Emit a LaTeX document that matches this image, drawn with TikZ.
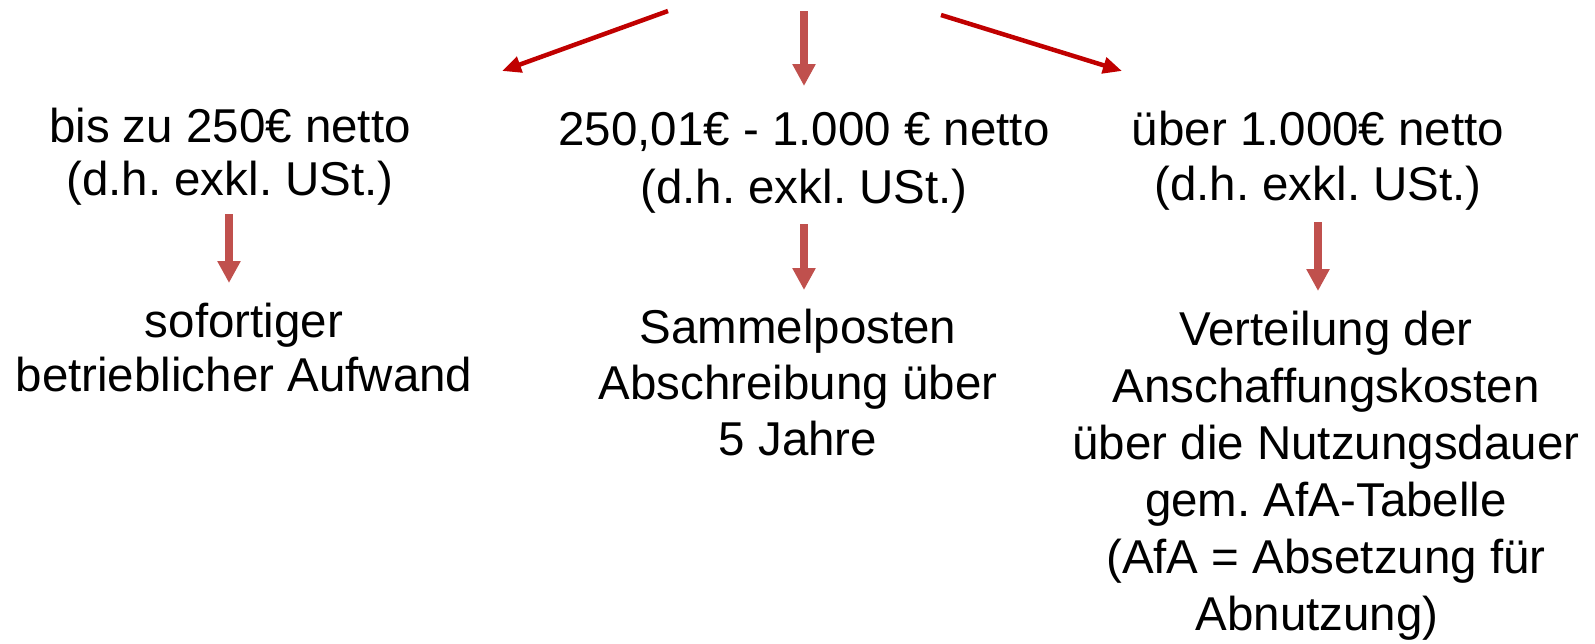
\documentclass[tikz,border=0pt]{standalone}
\usepackage{fontspec}
\setmainfont{Liberation Sans}
\usetikzlibrary{arrows.meta}
\definecolor{linered}{HTML}{C00000}
\definecolor{blockred}{HTML}{C0504D}
\frenchspacing
\begin{document}
\begin{tikzpicture}[x=1pt,y=-1pt,
  txt/.style={font=\fontsize{47.5}{#1}\selectfont, align=center, inner sep=0pt, anchor=base},
  txt/.default=56,
  thinarrow/.style={draw=linered, line width=4.5pt, -{Triangle[length=19pt,width=16pt]}},
  blockarrow/.style={draw=blockred, line width=8pt, -{Triangle[length=22pt,width=22pt]}}]
\useasboundingbox (0,0) rectangle (1595,643);

% price classes (anchored at the baseline of the last line)
\node[txt=53] (lowT)  at (230,195)  {bis zu 250€ netto\\(d.h. exkl. USt.)};
\node[txt=58] (midT)  at (804,203)  {250,01€ - 1.000 € netto\\(d.h. exkl. USt.)};
\node[txt=55] (highT) at (1318,200) {über 1.000€ netto\\(d.h. exkl. USt.)};

% treatment of each class
\node[txt=54] (lowB)  at (244,391)  {sofortiger\\betrieblicher Aufwand};
\node[txt=56] (midB)  at (798,455)  {Sammelposten\\Abschreibung über\\5 Jahre};
\node[txt=57] (highB) at (1326,630) {Verteilung der\\Anschaffungskosten\\über die Nutzungsdauer\\gem. AfA-Tabelle\\(AfA = Absetzung für\\Abnutzung)\hspace*{18pt}};

% arrow end points
\coordinate (srcL) at (668,11);
\coordinate (tipL) at (502,71);
\coordinate (srcM) at (804,11);
\coordinate (tipM) at (804,86);
\coordinate (srcR) at (941,15);
\coordinate (tipR) at (1122,71);
\coordinate (lowS)  at (229,214);
\coordinate (lowE)  at (229,283);
\coordinate (midS)  at (804,224);
\coordinate (midE)  at (804,290);
\coordinate (highS) at (1318,222);
\coordinate (highE) at (1318,291);

\draw[thinarrow] (srcL) -- (tipL);
\draw[thinarrow] (srcR) -- (tipR);
\draw[blockarrow] (srcM) -- (tipM);
\draw[blockarrow] (lowS) -- (lowE);
\draw[blockarrow] (midS) -- (midE);
\draw[blockarrow] (highS) -- (highE);
\end{tikzpicture}
\end{document}
